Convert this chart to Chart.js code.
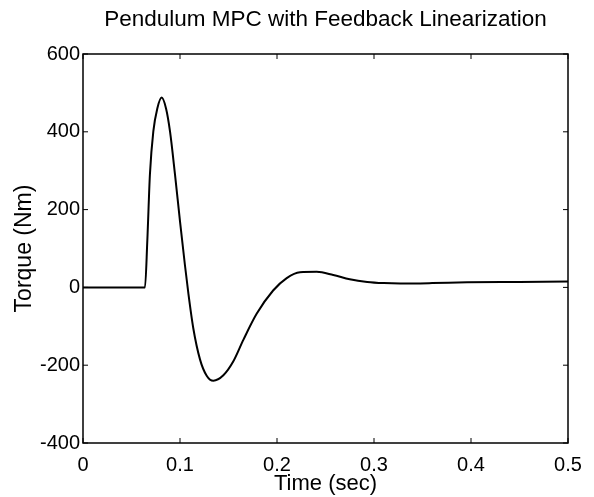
<!DOCTYPE html>
<html>
<head>
<meta charset="utf-8">
<script src="https://cdn.jsdelivr.net/npm/chart.js@4"></script>
<style>
html,body{margin:0;padding:0;background:#fff;}
#wrap{width:594px;height:497px;}
</style>
</head>
<body>
<div id="wrap"><canvas id="c" width="594" height="497"></canvas></div>
<script>
const titleText = "Pendulum MPC with Feedback Linearization";
const xTitle = "Time (sec)";
const yTitle = "Torque (Nm)";
const xTicks = [0, 0.1, 0.2, 0.3, 0.4, 0.5];
const yTicks = [-400, -200, 0, 200, 400, 600];
const timeSec = [0, 0.03, 0.0639, 0.0663, 0.069, 0.0725, 0.0766, 0.0811, 0.0856, 0.0897, 0.0948, 0.100, 0.1052, 0.1086, 0.1137, 0.1206, 0.1275, 0.1344, 0.1447, 0.155, 0.1653, 0.179, 0.196, 0.210, 0.2237, 0.241, 0.258, 0.275, 0.293, 0.310, 0.327, 0.360, 0.396, 0.450, 0.500];
const torque  = [0, 0, 0, 120, 291, 401, 460, 488, 460, 401, 291, 170, 55, -15, -105, -185, -227, -240, -226, -190, -135, -68, -8, 24, 39, 40, 32, 21, 14, 11, 10, 11, 13, 14, 15];

const pts = timeSec.map((t, i) => ({x: t, y: torque[i]}));
const FONT = "'Liberation Sans', Arial, sans-serif";

const boxPlugin = {
  id: 'box',
  afterDraw(chart) {
    const {ctx, chartArea: a, scales} = chart;
    ctx.save();
    ctx.strokeStyle = '#000';
    ctx.lineWidth = 1.5;
    ctx.strokeRect(a.left, a.top, a.right - a.left, a.bottom - a.top);
    ctx.lineWidth = 1;
    const L = 5;
    xTicks.forEach(v => {
      const px = scales.x.getPixelForValue(v);
      ctx.beginPath();
      ctx.moveTo(px, a.bottom); ctx.lineTo(px, a.bottom - L);
      ctx.moveTo(px, a.top); ctx.lineTo(px, a.top + L);
      ctx.stroke();
    });
    yTicks.forEach(v => {
      const py = scales.y.getPixelForValue(v);
      ctx.beginPath();
      ctx.moveTo(a.left, py); ctx.lineTo(a.left + L, py);
      ctx.moveTo(a.right, py); ctx.lineTo(a.right - L, py);
      ctx.stroke();
    });
    ctx.fillStyle = '#000';
    ctx.font = "22.5px " + FONT;
    ctx.textAlign = 'center';
    ctx.textBaseline = 'middle';
    ctx.fillText(titleText, (a.left + a.right) / 2, 20);
    ctx.restore();
  }
};

new Chart(document.getElementById('c'), {
  type: 'line',
  data: {
    datasets: [{
      data: pts,
      borderColor: '#000',
      borderWidth: 2,
      pointRadius: 0,
      fill: false,
      cubicInterpolationMode: 'monotone'
    }]
  },
  options: {
    responsive: false,
    animation: false,
    devicePixelRatio: 1,
    layout: {padding: {left: 0, right: 26, top: 54, bottom: 0}},
    plugins: {
      legend: {display: false},
      tooltip: {enabled: false},
      title: {display: false}
    },
    scales: {
      x: {
        type: 'linear',
        min: 0, max: 0.5,
        afterBuildTicks(s) { s.ticks = xTicks.map(v => ({value: v})); },
        afterFit(s) { s.height = 54; },
        grid: {display: false, drawTicks: false},
        border: {display: false},
        ticks: {
          color: '#000', padding: 10,
          font: {family: FONT, size: 20},
          callback: v => String(v)
        },
        title: {
          display: true, text: xTitle, color: '#000',
          font: {family: FONT, size: 22},
          padding: {top: 0, bottom: 0}
        }
      },
      y: {
        type: 'linear',
        min: -400, max: 600,
        afterBuildTicks(s) { s.ticks = yTicks.map(v => ({value: v})); },
        afterFit(s) { s.width = 83; },
        grid: {display: false, drawTicks: false},
        border: {display: false},
        ticks: {
          color: '#000', padding: 3,
          font: {family: FONT, size: 20},
          callback: v => String(v)
        },
        title: {
          display: true, text: yTitle, color: '#000',
          font: {family: FONT, size: 23},
          padding: {top: 11, bottom: 0}
        }
      }
    }
  },
  plugins: [boxPlugin]
});
</script>
</body>
</html>
